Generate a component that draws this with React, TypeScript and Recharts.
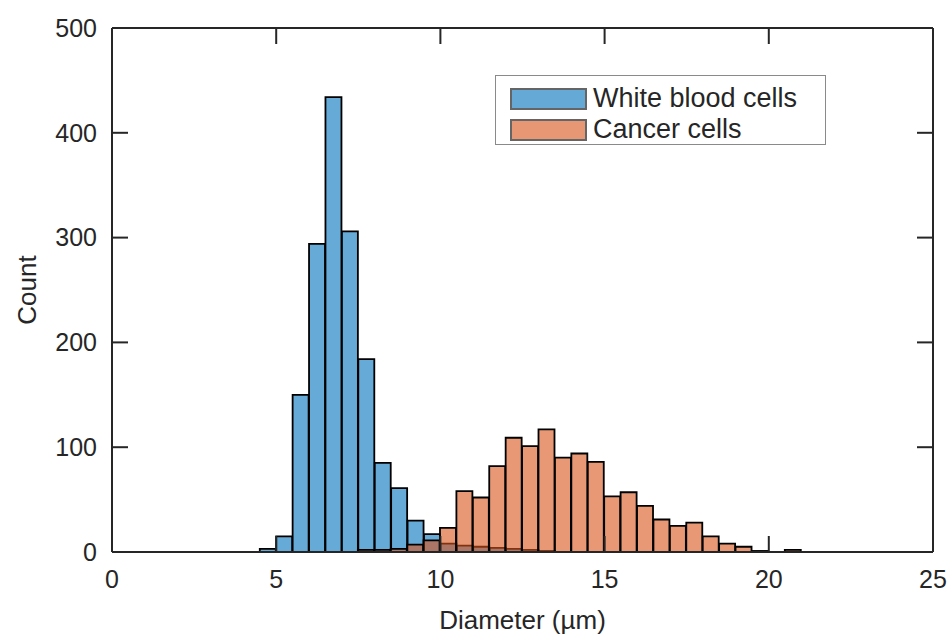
import { Bar, BarChart, Label, Legend, XAxis, YAxis } from "recharts";

// left edge of each 0.5 µm bin
const binStarts = [
  0, 0.5, 1, 1.5, 2, 2.5, 3, 3.5, 4, 4.5,
  5, 5.5, 6, 6.5, 7, 7.5, 8, 8.5, 9, 9.5,
  10, 10.5, 11, 11.5, 12, 12.5, 13, 13.5, 14, 14.5,
  15, 15.5, 16, 16.5, 17, 17.5, 18, 18.5, 19, 19.5,
  20, 20.5, 21, 21.5, 22, 22.5, 23, 23.5, 24, 24.5,
];

const whiteBloodCells = [
  0, 0, 0, 0, 0, 0, 0, 0, 0, 3,
  15, 150, 294, 434, 306, 184, 85, 61, 30, 17,
  8, 6, 5, 4, 3, 2, 1, 0, 0, 0,
  0, 0, 0, 0, 0, 0, 0, 0, 0, 0,
  0, 0, 0, 0, 0, 0, 0, 0, 0, 0,
];

const cancerCells = [
  0, 0, 0, 0, 0, 0, 0, 0, 0, 0,
  0, 0, 0, 0, 0, 2, 2, 3, 7, 11,
  23, 58, 52, 82, 109, 101, 117, 90, 94, 86,
  53, 57, 44, 31, 25, 28, 15, 8, 5, 1,
  0, 2, 0, 0, 0, 0, 0, 0, 0, 0,
];

const xTicks = [0, 5, 10, 15, 20, 25];
const yTicks = [0, 100, 200, 300, 400, 500];

const seriesNames = ["White blood cells", "Cancer cells"];
const seriesColors = ["#0072BD", "#D95319"];

const data = binStarts.map((start, i) => ({
  bin: start,
  wbc: whiteBloodCells[i],
  cancer: cancerCells[i],
}));

const FONT = '"Liberation Sans", Arial, Helvetica, sans-serif';
const INK = "#262626";

const XTitle = (props: any) => {
  const vb = props.viewBox;
  return (
    <text
      x={vb.x + vb.width / 2}
      y={vb.y + 68}
      textAnchor="middle"
      dominantBaseline="central"
      fontSize={26}
      fill={INK}
      fontFamily={FONT}
    >
      Diameter (µm)
    </text>
  );
};

const YTitle = (props: any) => {
  const vb = props.viewBox;
  const cy = vb.y + vb.height / 2;
  return (
    <text
      x={19}
      y={cy}
      transform={`rotate(-90, 19, ${cy})`}
      textAnchor="middle"
      dominantBaseline="central"
      fontSize={26}
      fill={INK}
      fontFamily={FONT}
    >
      Count
    </text>
  );
};

const LegendBox = () => (
  <div
    style={{
      width: 331,
      height: 70,
      boxSizing: "border-box",
      border: "1.5px solid #8a8a8a",
      background: "#fff",
      padding: "7px 0 0 14px",
      fontFamily: FONT,
    }}
  >
    {seriesNames.map((name, i) => (
      <div
        key={name}
        style={{ display: "flex", alignItems: "center", height: 31 }}
      >
        <span
          style={{
            display: "inline-block",
            width: 77,
            height: 22,
            boxSizing: "border-box",
            border: "2px solid #000",
            background: seriesColors[i],
            opacity: 0.6,
          }}
        />
        <span style={{ marginLeft: 6, fontSize: 27, color: INK, lineHeight: "27px" }}>
          {name}
        </span>
      </div>
    ))}
  </div>
);

export default function App() {
  return (
    <div
      style={{
        position: "absolute",
        left: 8,
        top: 8,
        width: 942,
        height: 626,
        fontFamily: FONT,
        overflow: "visible",
      }}
    >
      <BarChart
        width={942}
        height={626}
        data={data}
        margin={{ top: 19, right: 16, bottom: 0, left: 0 }}
        barCategoryGap={0}
        barGap="-100%"
        style={{ overflow: "visible" }}
      >
        <XAxis xAxisId="bins" dataKey="bin" hide height={0} />
        <XAxis
          xAxisId="main"
          type="number"
          dataKey="bin"
          domain={[0, 25]}
          allowDataOverflow
          ticks={xTicks}
          interval={0}
          height={82}
          tickSize={-16}
          tickMargin={34}
          stroke={INK}
          axisLine={{ strokeWidth: 2 }}
          tickLine={{ strokeWidth: 2 }}
          tick={{ fill: INK, fontSize: 25 }}
        >
          <Label content={XTitle} />
        </XAxis>
        <XAxis
          xAxisId="top"
          orientation="top"
          type="number"
          dataKey="bin"
          domain={[0, 25]}
          allowDataOverflow
          ticks={xTicks}
          interval={0}
          height={1}
          tickSize={-16}
          stroke={INK}
          axisLine={{ strokeWidth: 2 }}
          tickLine={{ strokeWidth: 2 }}
          tickFormatter={() => ""}
        />
        <YAxis
          domain={[0, 500]}
          allowDataOverflow
          ticks={yTicks}
          interval={0}
          width={104}
          tickSize={-16}
          tickMargin={31}
          stroke={INK}
          axisLine={{ strokeWidth: 2 }}
          tickLine={{ strokeWidth: 2 }}
          tick={{ fill: INK, fontSize: 25 }}
        >
          <Label content={YTitle} />
        </YAxis>
        <YAxis
          yAxisId="right"
          orientation="right"
          domain={[0, 500]}
          allowDataOverflow
          ticks={yTicks}
          interval={0}
          width={1}
          tickSize={-16}
          stroke={INK}
          axisLine={{ strokeWidth: 2 }}
          tickLine={{ strokeWidth: 2 }}
          tickFormatter={() => ""}
        />
        <Bar
          xAxisId="bins"
          dataKey="wbc"
          name={seriesNames[0]}
          fill={seriesColors[0]}
          fillOpacity={0.6}
          stroke="#000"
          strokeWidth={1.8}
          isAnimationActive={false}
        />
        <Bar
          xAxisId="bins"
          dataKey="cancer"
          name={seriesNames[1]}
          fill={seriesColors[1]}
          fillOpacity={0.6}
          stroke="#000"
          strokeWidth={1.8}
          isAnimationActive={false}
        />
        <Legend
          layout="vertical"
          align="center"
          verticalAlign="middle"
          wrapperStyle={{ left: 487, top: 67, width: 331, height: 70 }}
          content={LegendBox}
        />
      </BarChart>
    </div>
  );
}
